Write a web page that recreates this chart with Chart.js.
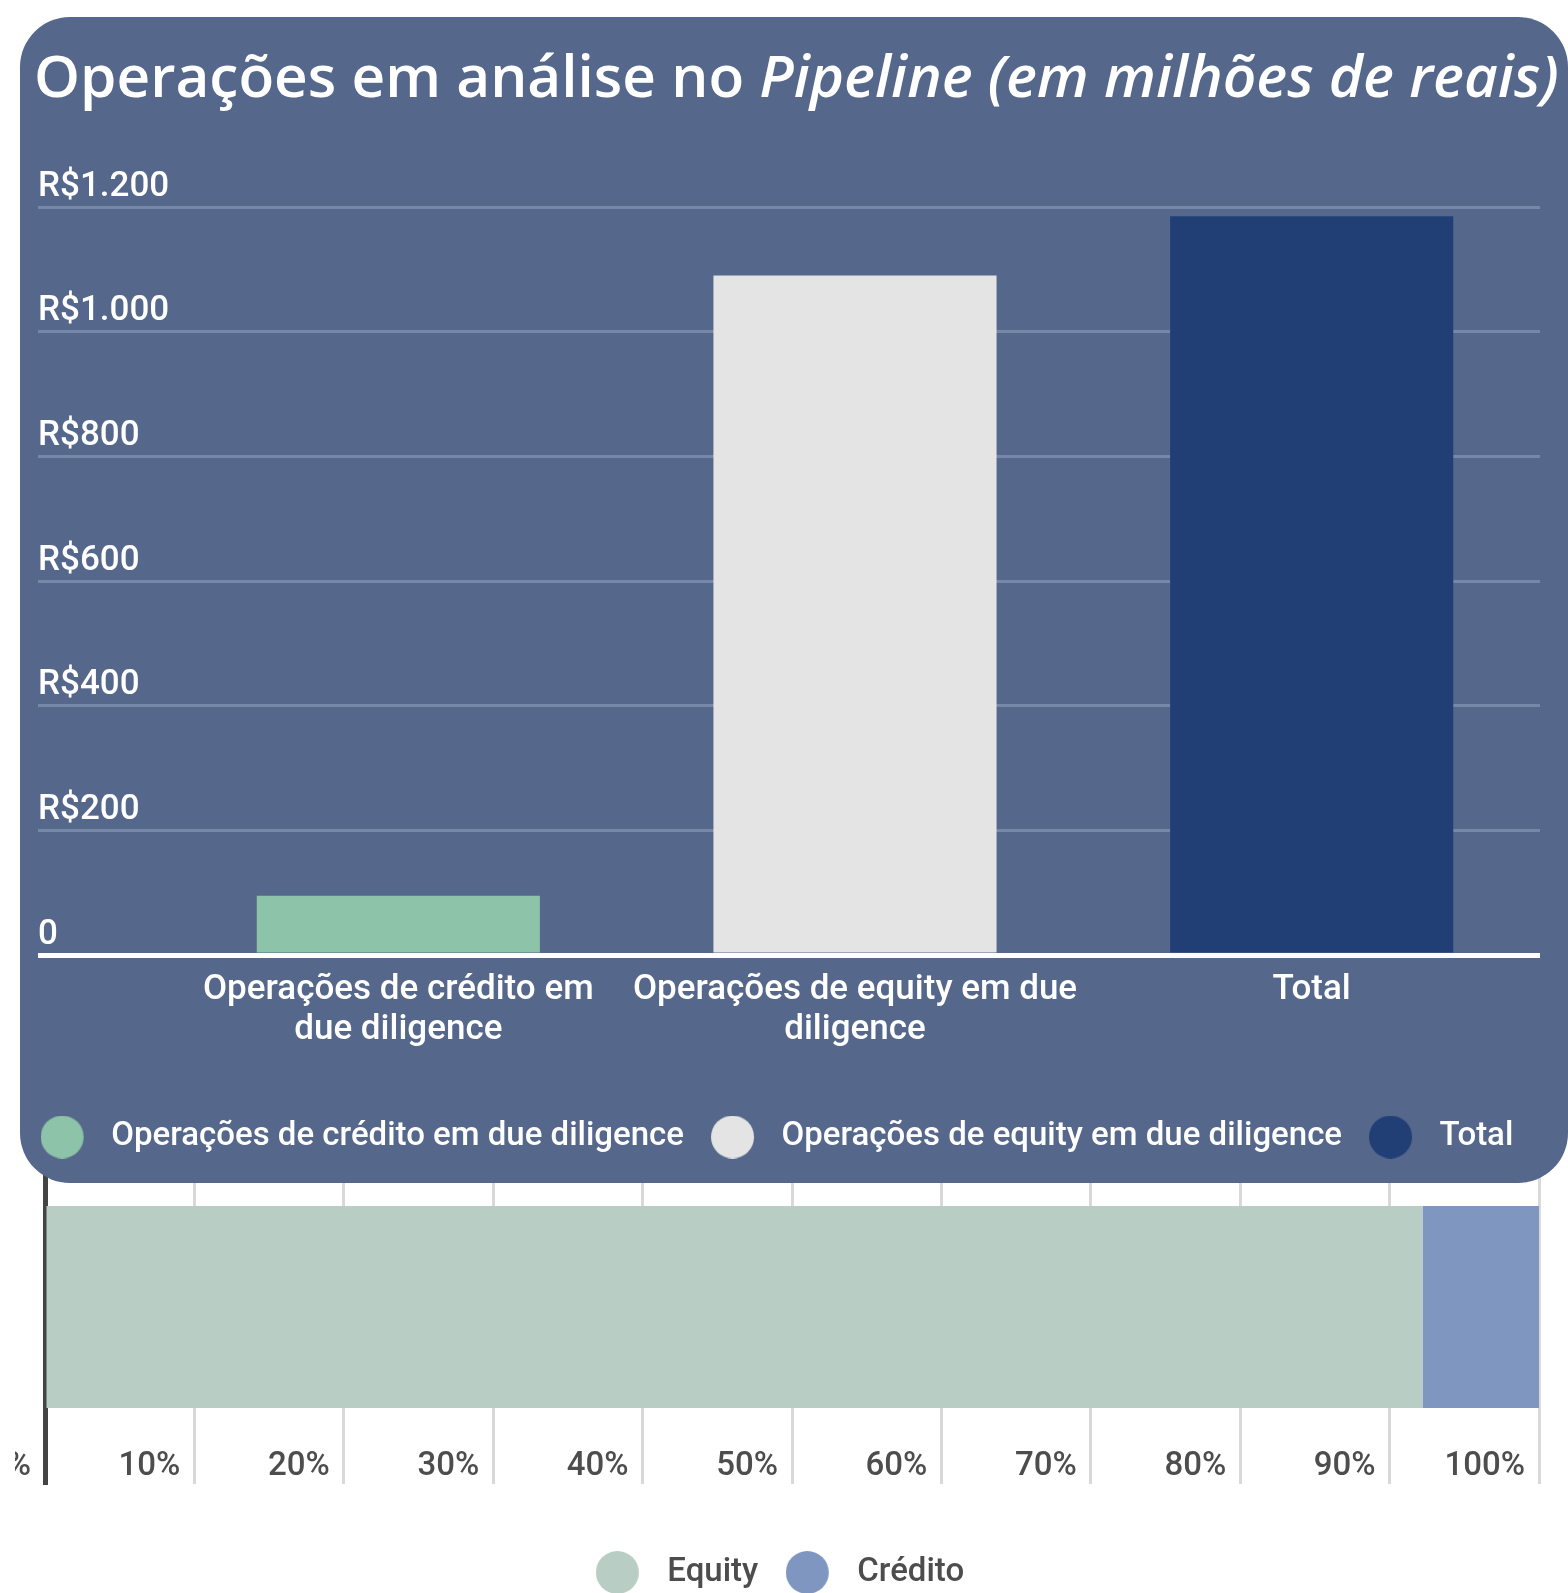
<!DOCTYPE html>
<html lang="pt-BR">

<head>
    <meta charset="UTF-8" />
    <title>Operações em análise no Pipeline</title>
    <script src="https://cdn.jsdelivr.net/npm/chart.js"></script>
    <style>
        html, body {
            margin: 0;
            padding: 0;
            background: #ffffff;
        }
        body {
            width: 1568px;
            height: 1593px;
            position: relative;
            overflow: hidden;
            font-family: Roboto, sans-serif;
        }
        .painel {
            position: absolute;
            left: 20px;
            top: 17px;
            width: 1548px;
            height: 1166px;
            background: #55678a;
            border-radius: 50px;
            z-index: 1;
        }
        .titulo {
            position: absolute;
            left: 34px;
            top: 45px;
            margin: 0;
            font-family: 'Open Sans', sans-serif;
            font-size: 58.5px;
            font-weight: 600;
            line-height: 1;
            color: #ffffff;
            white-space: nowrap;
            z-index: 3;
        }
        #boxPipeline {
            position: absolute;
            left: 0;
            top: 150px;
            width: 1568px;
            height: 1033px;
            z-index: 2;
        }
        #boxDivisao {
            position: absolute;
            left: 15px;
            top: 1100px;
            width: 1553px;
            height: 499px;
            z-index: 0;
        }
    </style>
</head>

<body>
    <div class="painel"></div>
    <h1 class="titulo">Operações em análise no <em>Pipeline (em milhões de reais)</em></h1>

    <div id="boxPipeline"><canvas id="graficoPipeline"></canvas></div>
    <div id="boxDivisao"><canvas id="graficoDivisao"></canvas></div>

    <script>
        // valores em milhões de reais
        const categorias = [['Operações de crédito em', 'due diligence'], ['Operações de equity em due', 'diligence'], 'Total'];
        const nomesSeries = ['Operações de crédito em due diligence', 'Operações de equity em due diligence', 'Total'];
        const valoresCredito = [95, null, null];
        const valoresEquity = [null, 1090, null];
        const valoresTotal = [null, null, 1185];
        const ticksReais = [0, 200, 400, 600, 800, 1000, 1200];

        // participação de cada tipo no total (%)
        const divisaoCategorias = ['Pipeline'];
        const divisaoNomes = ['Equity', 'Crédito'];
        const partEquity = [92.2];
        const partCredito = [7.8];
        const ticksPercent = [0, 10, 20, 30, 40, 50, 60, 70, 80, 90, 100];

        const corCredito = '#8dc3a8';
        const corEquity = '#e4e4e4';
        const corTotal = '#223f75';
        const corDivEquity = '#b8cdc4';
        const corDivCredito = '#7f97c0';

        const fonte = { family: 'Roboto', size: 33, weight: '500' };

        // bolinha da legenda: o círculo fica na borda esquerda da imagem;
        // o resto da largura vira espaço até o texto
        function bolinha(cor, diam, larg) {
            const c = document.createElement('canvas');
            c.width = larg;
            c.height = diam;
            const g = c.getContext('2d');
            g.fillStyle = cor;
            g.beginPath();
            g.arc(diam / 2, diam / 2, diam / 2, 0, Math.PI * 2);
            g.fill();
            return c;
        }

        function formatarReais(v) {
            if (v === 0) return '0';
            return 'R$' + String(v).replace(/\B(?=(\d{3})+(?!\d))/g, '.');
        }

        const linhaZero = (ctx) => ctx.tick && ctx.tick.value === 0;

        // eixo vazio, só reserva margem lateral (a legenda usa a largura toda)
        function margem(posicao, largura) {
            return {
                type: 'linear',
                position: posicao,
                weight: 10,
                grid: { display: false, drawTicks: false },
                border: { display: false },
                ticks: { display: false },
                afterFit: (s) => { s.width = largura; }
            };
        }

        new Chart(document.getElementById('graficoPipeline'), {
            type: 'bar',
            data: {
                labels: categorias,
                datasets: [
                    { label: nomesSeries[0], data: valoresCredito, backgroundColor: corCredito, pointStyle: bolinha(corCredito, 43, 54) },
                    { label: nomesSeries[1], data: valoresEquity, backgroundColor: corEquity, pointStyle: bolinha(corEquity, 43, 54) },
                    { label: nomesSeries[2], data: valoresTotal, backgroundColor: corTotal, pointStyle: bolinha(corTotal, 43, 54) }
                ]
            },
            options: {
                responsive: true,
                maintainAspectRatio: false,
                animation: false,
                layout: { padding: { left: 0, right: 14, top: 57, bottom: 19.5 } },
                datasets: { bar: { grouped: false, barPercentage: 0.62, categoryPercentage: 1 } },
                scales: {
                    x: {
                        grid: { display: false, drawTicks: false },
                        border: { display: false },
                        ticks: {
                            color: '#ffffff',
                            font: { family: 'Roboto', size: 35, weight: '500', lineHeight: 1.14 },
                            padding: 15,
                            maxRotation: 0,
                            autoSkip: false
                        },
                        afterFit: (s) => { s.height = 138.5; }
                    },
                    y: {
                        min: 0,
                        max: 1200,
                        afterBuildTicks: (s) => { s.ticks = ticksReais.map(v => ({ value: v })); },
                        grid: {
                            color: (c) => linhaZero(c) ? '#ffffff' : '#7787a7',
                            lineWidth: (c) => linhaZero(c) ? 5 : 3,
                            tickColor: (c) => linhaZero(c) ? '#ffffff' : '#7787a7',
                            tickWidth: (c) => linhaZero(c) ? 5 : 3,
                            tickLength: 132
                        },
                        border: { display: false },
                        ticks: {
                            color: '#ffffff',
                            font: { family: 'Roboto', size: 35, weight: '500' },
                            crossAlign: 'far',
                            padding: 0,
                            labelOffset: -20,
                            callback: (v) => formatarReais(v)
                        },
                        afterFit: (s) => { s.width = 132; }
                    },
                    margemEsq: margem('left', 38),
                    margemDir: margem('right', 14)
                },
                plugins: {
                    legend: {
                        position: 'bottom',
                        labels: {
                            usePointStyle: true,
                            pointStyleWidth: 54,
                            color: '#ffffff',
                            font: fonte,
                            padding: 27
                        }
                    },
                    tooltip: { enabled: false }
                }
            }
        });

        new Chart(document.getElementById('graficoDivisao'), {
            type: 'bar',
            data: {
                labels: divisaoCategorias,
                datasets: [
                    { label: divisaoNomes[0], data: partEquity, backgroundColor: corDivEquity, pointStyle: bolinha(corDivEquity, 43, 79) },
                    { label: divisaoNomes[1], data: partCredito, backgroundColor: corDivCredito, pointStyle: bolinha(corDivCredito, 43, 79) }
                ]
            },
            options: {
                indexAxis: 'y',
                responsive: true,
                maintainAspectRatio: false,
                animation: false,
                layout: { padding: { left: 30, right: 29, top: 30, bottom: 0 } },
                datasets: { bar: { barPercentage: 0.57, categoryPercentage: 1 } },
                scales: {
                    x: {
                        stacked: true,
                        min: 0,
                        max: 100,
                        afterBuildTicks: (s) => { s.ticks = ticksPercent.map(v => ({ value: v })); },
                        grid: { color: '#d9d9d9', lineWidth: 3, drawTicks: false },
                        border: { display: false },
                        ticks: {
                            color: '#4d4d4d',
                            font: fonte,
                            align: 'end',
                            labelOffset: -14,
                            mirror: true,
                            padding: -3,
                            maxRotation: 0,
                            callback: (v) => v + '%'
                        },
                        afterFit: (s) => { s.height = 20.5; s.paddingLeft = 0; s.paddingRight = 0; }
                    },
                    y: {
                        stacked: true,
                        ticks: { display: false },
                        grid: { display: false, drawTicks: false },
                        border: { color: '#444444', width: 5 },
                        afterFit: (s) => { s.width = 0; }
                    }
                },
                plugins: {
                    legend: {
                        position: 'bottom',
                        labels: {
                            usePointStyle: true,
                            pointStyleWidth: 31,
                            color: '#4d4d4d',
                            font: fonte,
                            padding: 51.5
                        }
                    },
                    tooltip: { enabled: false }
                }
            }
        });
    </script>
</body>

</html>
